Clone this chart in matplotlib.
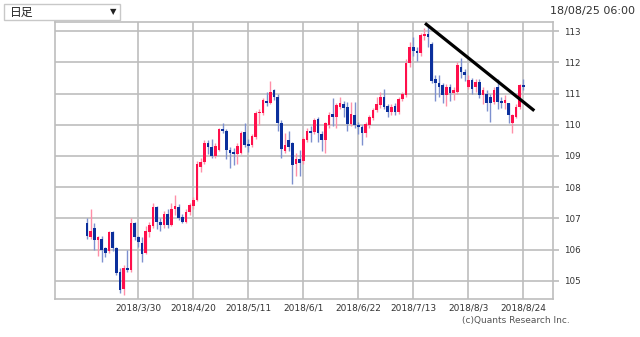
import pandas as pd
import matplotlib
matplotlib.use('Agg')
import matplotlib.pyplot as plt
from matplotlib.patches import Rectangle

# USD/JPY daily candles, 2018/3/12 - 2018/8/24
dates = pd.bdate_range('2018-03-12', '2018-08-24')

opens = [106.85, 106.4, 106.7, 106.3, 106.35, 106.05, 105.95, 106.55, 106.05, 105.3,
         104.75, 105.4, 105.35, 106.85, 106.4, 106.2, 105.9, 106.55, 106.75, 107.35,
         106.9, 106.8, 107.15, 106.8, 107.3, 107.35, 107.05, 106.9, 107.2, 107.4,
         107.6, 108.66, 108.8, 109.43, 109.3, 109.0, 109.2, 109.85, 109.8, 109.2,
         109.12, 109.05, 109.1, 109.78, 109.38, 109.35, 109.62, 110.36, 110.37, 110.77,
         110.7, 111.1, 110.9, 110.07, 109.15, 109.5, 109.4, 108.74, 108.89, 108.85,
         109.5, 109.81, 109.78, 110.17, 109.69, 109.5, 110.0, 110.34, 110.26, 110.56,
         110.67, 110.56, 110.02, 110.31, 109.99, 109.92, 109.73, 109.98, 110.22, 110.47,
         110.63, 110.88, 110.6, 110.42, 110.6, 110.42, 110.81, 110.95, 111.97, 112.5,
         112.35, 112.3, 112.85, 112.9, 112.6, 111.45, 111.35, 111.27, 110.95, 111.22,
         111.03, 111.06, 111.86, 111.7, 111.22, 111.43, 111.2, 111.36, 110.96, 111.0,
         110.9, 110.72, 111.22, 110.77, 110.71, 110.69, 110.05, 110.26, 110.56, 111.27]
highs = [107.0, 107.3, 106.85, 106.45, 106.45, 106.1, 106.6, 106.6, 106.1, 105.4,
         105.5, 106.0, 107.0, 106.9, 106.45, 106.4, 106.75, 106.9, 107.5, 107.4,
         107.0, 107.25, 107.3, 107.5, 107.75, 107.45, 107.15, 107.3, 107.5, 107.7,
         108.85, 108.95, 109.5, 109.5, 109.55, 109.4, 109.9, 110.05, 109.85, 109.3,
         109.25, 109.4, 109.8, 110.05, 109.55, 109.7, 110.45, 110.5, 110.85, 111.06,
         111.4, 111.15, 111.0, 110.15, 109.75, 109.8, 109.45, 109.08, 109.2, 109.6,
         109.9, 109.96, 110.2, 110.25, 109.8, 110.1, 110.4, 110.85, 110.7, 110.9,
         110.75, 110.74, 110.74, 110.74, 110.1, 110.0, 110.1, 110.3, 110.55, 110.9,
         111.06, 111.13, 110.65, 110.65, 110.7, 110.9, 111.05, 112.1, 112.65, 112.8,
         112.5, 112.95, 113.1, 113.2, 112.65, 111.6, 111.6, 111.35, 111.3, 111.3,
         111.2, 112.0, 112.15, 111.8, 111.6, 111.5, 111.45, 111.45, 111.2, 111.1,
         111.0, 111.2, 111.45, 110.9, 110.95, 110.7, 110.35, 110.65, 111.3, 111.48]
lows = [106.35, 106.35, 106.0, 105.8, 105.6, 105.75, 105.9, 105.95, 105.2, 104.6,
        104.55, 105.3, 105.3, 106.3, 106.1, 105.6, 105.85, 106.4, 106.7, 106.65,
        106.6, 106.7, 106.7, 106.75, 107.1, 106.95, 106.85, 106.85, 107.1, 107.3,
        107.55, 108.5, 108.75, 109.05, 108.95, 108.95, 109.15, 109.75, 108.9, 108.6,
        108.7, 108.75, 109.05, 109.3, 109.12, 109.3, 109.55, 110.0, 110.3, 110.6,
        110.65, 110.8, 109.8, 108.95, 109.1, 109.15, 108.1, 108.35, 108.35, 108.75,
        109.45, 109.46, 109.7, 109.46, 109.17, 109.1, 109.9, 109.95, 109.9, 110.5,
        110.26, 109.8, 109.95, 109.9, 109.7, 109.35, 109.6, 109.9, 110.15, 110.4,
        110.55, 110.5, 110.26, 110.3, 110.3, 110.35, 110.75, 110.9, 111.85, 112.2,
        112.05, 112.2, 112.7, 112.5, 111.35, 110.75, 110.9, 110.7, 110.6, 110.75,
        110.8, 111.0, 111.5, 111.4, 111.15, 111.0, 111.05, 110.85, 110.65, 110.43,
        110.1, 110.65, 110.5, 110.55, 110.5, 110.05, 109.73, 110.2, 110.5, 111.1]
closes = [106.45, 106.6, 106.3, 106.4, 106.0, 105.9, 106.55, 106.05, 105.25, 104.7,
          105.4, 105.35, 106.85, 106.4, 106.25, 105.85, 106.6, 106.8, 107.35, 106.9,
          106.8, 107.15, 106.8, 107.3, 107.4, 107.0, 106.9, 107.2, 107.42, 107.6,
          108.75, 108.82, 109.43, 109.28, 109.0, 109.32, 109.85, 109.8, 109.2, 109.1,
          109.05, 109.32, 109.75, 109.35, 109.33, 109.64, 110.37, 110.42, 110.79, 110.7,
          111.06, 110.9, 110.07, 109.21, 109.35, 109.28, 108.7, 108.89, 108.78, 109.53,
          109.8, 109.75, 110.15, 109.73, 109.51, 110.05, 110.31, 110.26, 110.63, 110.69,
          110.53, 110.02, 110.34, 109.99, 109.94, 109.73, 110.02, 110.26, 110.47, 110.66,
          110.9, 110.56, 110.42, 110.56, 110.42, 110.81, 110.98, 111.97, 112.5, 112.35,
          112.3, 112.88, 112.9, 112.8, 111.4, 111.35, 111.22, 110.95, 111.22, 111.03,
          111.1, 111.9, 111.7, 111.6, 111.43, 111.16, 111.36, 110.95, 111.1, 110.69,
          110.71, 111.1, 110.72, 110.71, 110.8, 110.31, 110.31, 110.58, 111.27, 111.22]

tick_dates = ['2018-03-30', '2018-04-20', '2018-05-11', '2018-06-01',
              '2018-06-22', '2018-07-13', '2018-08-03', '2018-08-24']
y_ticks = [105, 106, 107, 108, 109, 110, 111, 112, 113]

# hand-drawn trend line (start/end in index, price)
trend_x = [92.2, 122.0]
trend_y = [113.25, 110.45]

up_col, up_wick = '#ff0f4b', '#ff8fa8'
dn_col, dn_wick = '#0b2f9c', '#7d90cf'

fig = plt.figure(figsize=(6.4, 3.37), dpi=100)
ax = fig.add_axes([55 / 640, 1 - 299.3 / 337, (553 - 55) / 640, (299.3 - 22) / 337])

for i in range(len(dates)):
    o, h, l, c = opens[i], highs[i], lows[i], closes[i]
    up = c >= o
    ax.vlines(i, l, h, color=up_wick if up else dn_wick, lw=1.0, zorder=3)
    bot = min(o, c)
    hgt = max(abs(c - o), 0.03)
    ax.add_patch(Rectangle((i - 0.36, bot), 0.72, hgt, facecolor=up_col if up else dn_col,
                           edgecolor='none', zorder=4))

ax.plot(trend_x, trend_y, color='black', lw=2.3, solid_capstyle='butt', zorder=5)

idx = [dates.get_loc(pd.Timestamp(d)) for d in tick_dates]
ax.set_xticks(idx)
ax.set_xticklabels([f'{pd.Timestamp(d).year}/{pd.Timestamp(d).month}/{pd.Timestamp(d).day}'
                    for d in tick_dates], fontsize=6.5, color='#333333')
ax.set_xlim(-8.7, 127.1)
ax.set_ylim(104.41, 113.29)
ax.set_yticks(y_ticks)
ax.set_yticklabels([str(v) for v in y_ticks], fontsize=6.3, color='#333333')
ax.yaxis.tick_right()
ax.tick_params(axis='y', length=4, width=1.2, color='#bbbbbb', pad=4)
ax.tick_params(axis='x', length=0, pad=3)
ax.grid(True, color='#bdbdbd', lw=1.2)
ax.set_axisbelow(True)
for s in ax.spines.values():
    s.set_color('#bdbdbd')
    s.set_linewidth(1.2)

# header widgets
fig.patches.append(Rectangle((4 / 640, 1 - 20 / 337), 116 / 640, 16 / 337, transform=fig.transFigure,
                             facecolor='white', edgecolor='#c8c8c8', lw=1))
fig.text(10 / 640, 1 - 12 / 337, '日足', fontsize=8.5, va='center', color='#222222',
         family=['Noto Sans CJK JP', 'DejaVu Sans'])
fig.text(113 / 640, 1 - 12 / 337, '▼', fontsize=6, va='center', ha='center', color='#222222')
fig.text(635 / 640, 1 - 11 / 337, '18/08/25 06:00', fontsize=8, ha='right', va='center', color='#333333')
fig.text(570 / 640, 1 - 321 / 337, '(c)Quants Research Inc.', fontsize=6.5, ha='right', va='center',
         color='#555555')

plt.savefig('out.png', dpi=100)
plt.close()
